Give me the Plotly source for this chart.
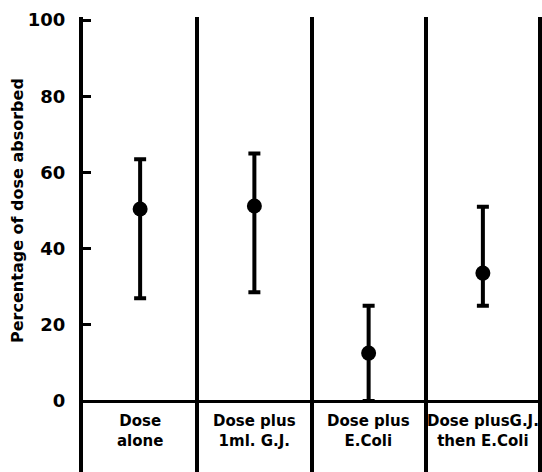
import plotly.graph_objects as go

groups = ["Dose<br>alone", "Dose plus<br>1ml. G.J.", "Dose plus<br>E.Coli", "Dose plusG.J.<br>then E.Coli"]
group_pos = [0.5, 1.5, 2.5, 3.5]
means = [50.4, 51.2, 12.6, 33.6]
upper = [63.5, 65.0, 25.0, 51.0]
lower = [27.0, 28.6, 0.0, 25.0]
yticks = [0, 20, 40, 60, 80, 100]
ytitle = "Percentage of dose absorbed"

FONT = "DejaVu Sans"

fig = go.Figure()
fig.add_trace(go.Scatter(
    x=group_pos, y=means, mode="markers",
    marker=dict(size=15, color="black"),
    error_y=dict(type="data", symmetric=False,
                 array=[u - m for u, m in zip(upper, means)],
                 arrayminus=[m - l for m, l in zip(means, lower)],
                 color="black", thickness=4, width=6),
    showlegend=False, cliponaxis=False,
))

for gx, label in zip(group_pos, groups):
    fig.add_annotation(x=gx, y=-7.8, xref="x", yref="y", text="<b>" + label + "</b>",
                       showarrow=False, font=dict(family=FONT, size=15, color="black"))

fig.add_annotation(x=-0.168, y=50, xref="paper", yref="y", text="<b>" + ytitle + "</b>",
                   textangle=-90, showarrow=False,
                   font=dict(family=FONT, size=16, color="black"))

fig.update_layout(
    width=542, height=472,
    margin=dict(l=83, r=0, t=17, b=0, autoexpand=False),
    paper_bgcolor="white", plot_bgcolor="white",
    xaxis=dict(range=[0, 4.0175], tickvals=[1, 2, 3, 4], showticklabels=False,
               ticks="", showgrid=True, gridcolor="black", gridwidth=4,
               zeroline=False, showline=False, fixedrange=True, automargin=False),
    yaxis=dict(range=[-18.6, 100.8], tickvals=yticks,
               ticktext=["<b>%d</b>" % v for v in yticks],
               tickfont=dict(family=FONT, size=18, color="black"),
               ticks="inside", ticklen=8, tickwidth=3, tickcolor="black",
               ticklabelstandoff=10,
               showgrid=False, zeroline=True, zerolinecolor="black", zerolinewidth=3,
               showline=True, linecolor="black", linewidth=4, fixedrange=True,
               automargin=False),
)

fig.write_html("out.html", config={"displayModeBar": False},
               post_script="document.body.style.margin='0';document.body.style.overflow='hidden';")
